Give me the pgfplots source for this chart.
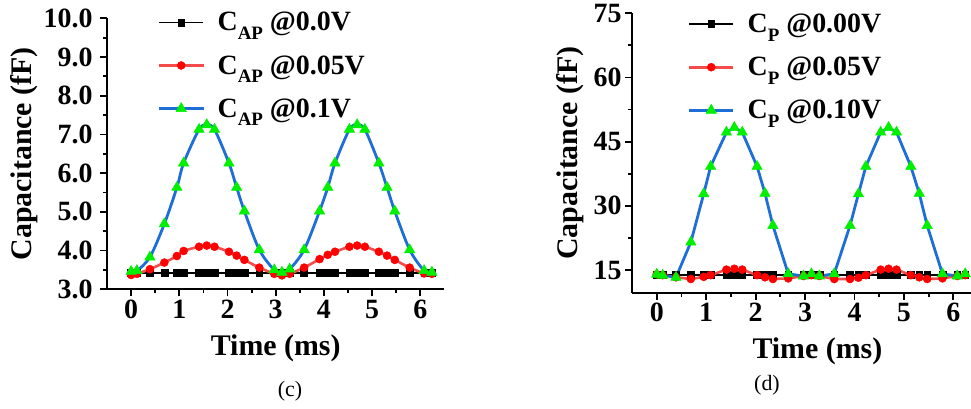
\documentclass[border=0pt]{standalone}
\usepackage{pgfplots}
\usepackage{pgfplotstable}
\pgfplotsset{compat=1.18}
\usepackage{fontspec}
\setmainfont{Liberation Serif}
\definecolor{lblue}{RGB}{30,110,215}
\definecolor{lred}{RGB}{245,75,75}
\definecolor{mgreen}{RGB}{0,240,0}

\pgfplotstableread{
t c0 c1 c2
0 3.42 3.37 3.46
0.12 3.42 3.40 3.48
0.39 3.42 3.52 3.83
0.69 3.42 3.69 4.69
0.95 3.42 3.86 5.63
1.09 3.42 3.99 6.26
1.41 3.42 4.10 7.13
1.57 3.42 4.13 7.25
1.73 3.42 4.10 7.13
2.03 3.42 3.97 6.26
2.19 3.42 3.87 5.63
2.35 3.42 3.76 5.02
2.66 3.42 3.56 4.02
2.97 3.42 3.40 3.50
3.13 3.42 3.36 3.44
3.29 3.42 3.40 3.52
3.59 3.42 3.56 4.02
3.91 3.42 3.78 5.02
4.08 3.42 3.89 5.63
4.23 3.42 3.97 6.26
4.53 3.42 4.10 7.13
4.69 3.42 4.13 7.25
4.85 3.42 4.10 7.13
5.14 3.42 3.97 6.26
5.31 3.42 3.87 5.63
5.47 3.42 3.76 5.02
5.78 3.42 3.56 4.02
6.08 3.42 3.41 3.48
6.24 3.42 3.40 3.44
}\tabAP

\pgfplotstableread{
t c0 c1 c2
0 13.9 14.0 14.0
0.12 13.9 13.8 13.75
0.39 13.9 13.3 13.3
0.69 13.9 12.9 21.5
0.95 13.9 13.4 32.8
1.09 13.9 13.8 39.2
1.41 13.9 15.1 47.2
1.57 13.9 15.3 48.3
1.73 13.9 15.1 47.2
2.03 13.9 13.8 39.2
2.19 13.9 13.3 32.9
2.35 13.9 12.9 25.4
2.66 13.9 13.05 14.1
2.97 13.9 13.6 13.6
3.13 13.9 13.8 14.1
3.29 13.9 13.6 13.6
3.59 13.9 12.9 14.1
3.91 13.9 12.9 25.4
4.08 13.9 13.2 32.8
4.23 13.9 13.8 39.2
4.53 13.9 15.1 47.2
4.69 13.9 15.3 48.3
4.85 13.9 15.1 47.2
5.14 13.9 13.8 39.2
5.31 13.9 13.3 32.9
5.47 13.9 12.9 25.4
5.78 13.9 13.05 14.1
6.08 13.9 13.6 13.6
6.24 13.9 13.8 14.1
}\tabP

\pgfplotsset{
  panel/.style={
    scale only axis,
    axis x line*=bottom, axis y line*=left,
    axis line style={line width=2bp, black},
    tick align=outside,
    major tick length=7bp, minor tick length=4bp,
    every tick/.style={black, line width=1.8bp},
    minor x tick num=1, minor y tick num=1,
    tick label style={font=\fontsize{28}{28}\selectfont\bfseries},
    /pgf/number format/assume math mode=true,
    label style={font=\fontsize{30}{30}\selectfont\bfseries},
    xlabel={Time (ms)},
    ylabel={Capacitance (fF)},
    xtick={0,...,6},
    xmin=-0.5,
    clip=false,
    legend cell align=left,
    legend image code/.code={\draw[mark repeat=2,mark phase=2,##1] plot coordinates {(0bp,0bp) (22bp,0bp) (44bp,0bp)}; \path (55bp,0bp);},
    legend style={draw=none, fill=none, anchor=north west, inner sep=0pt,
      font=\fontsize{28}{28}\selectfont\bfseries, row sep=19bp, nodes={inner sep=2bp}},
  },
  s0/.style={black, line width=1.8bp, mark=square*, mark size=3.4bp, mark options={line width=0.5bp}},
  s1/.style={color=lred, line width=2.6bp, mark=*, mark size=4bp, mark options={fill=red, draw=red, line width=0.5bp}},
  s2/.style={color=lblue, line width=2.8bp, mark=triangle*, mark size=6bp, mark options={fill=mgreen, draw=mgreen, line width=0.5bp}},
}

\newcommand{\sub}[1]{\raisebox{-8.5bp}{\fontsize{19}{19}\selectfont #1}}

\begin{document}
\begin{tikzpicture}[x=1bp,y=1bp]
\useasboundingbox (0,0) rectangle (971,408);
\begin{axis}[panel,
  at={(107bp,118.7bp)}, anchor=south west,
  width=337.4bp, height=271bp,
  xmax=6.5, ymin=3, ymax=10,
  ytick={3,4,...,10},
  yticklabel style={xshift=-4bp, /pgf/number format/.cd, fixed, fixed zerofill, precision=1},
  ylabel style={at={(axis description cs:-0.246,0.5)}, anchor=center},
  xlabel style={at={(axis description cs:0.5,-0.246)}, anchor=base},
  legend style={at={(axis description cs:0.15,1.03)}},
]
\addplot[s0] table[x=t,y=c0] {\tabAP};
\addlegendentry{C\sub{AP} @0.0V}
\addplot[s1, smooth] table[x=t,y=c1] {\tabAP};
\addlegendentry{C\sub{AP} @0.05V}
\addplot[s2, smooth] table[x=t,y=c2] {\tabAP};
\addlegendentry{C\sub{AP} @0.1V}
\end{axis}

\begin{axis}[panel,
  at={(632bp,115.3bp)}, anchor=south west,
  width=370.8bp, height=279.4bp,
  xmax=7, ymin=9.7, ymax=75,
  ytick={15,30,45,60,75},
  ylabel style={at={(axis description cs:-0.167,0.5)}, anchor=center},
  xlabel style={at={(axis description cs:0.5,-0.234)}, anchor=base},
  legend style={at={(axis description cs:0.15,1.005)}},
]
\addplot[s0] table[x=t,y=c0] {\tabP};
\addlegendentry{C\sub{P} @0.00V}
\addplot[s1] table[x=t,y=c1] {\tabP};
\addlegendentry{C\sub{P} @0.05V}
\addplot[s2] table[x=t,y=c2] {\tabP};
\addlegendentry{C\sub{P} @0.10V}
\end{axis}

\node[anchor=base, font=\fontsize{22}{22}\selectfont] at (290,12) {(c)};
\node[anchor=base, font=\fontsize{22}{22}\selectfont] at (767,18) {(d)};
\end{tikzpicture}
\end{document}
